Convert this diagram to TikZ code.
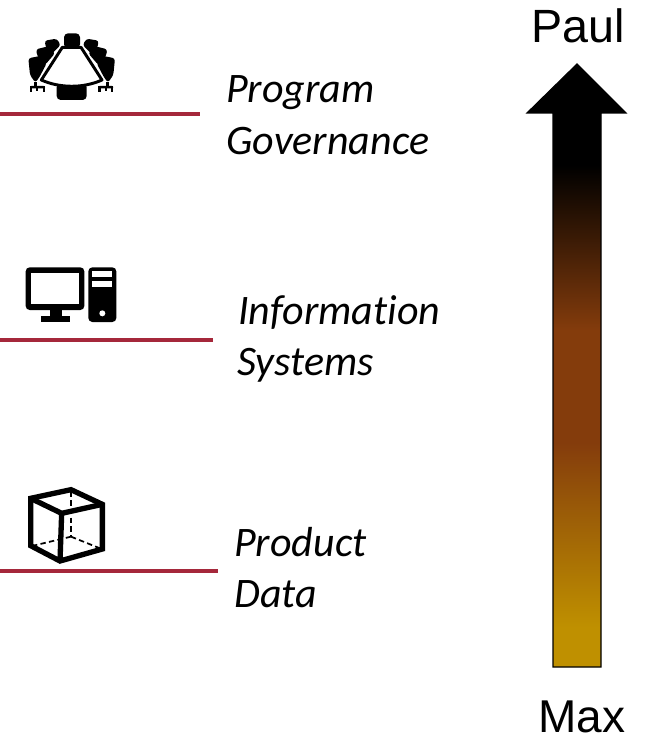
\documentclass[tikz,border=0pt]{standalone}
\usepackage{fontspec}
\setmainfont[Ligatures=NoCommon]{Carlito}
\newfontfamily\labelfont{Liberation Sans}
\definecolor{linered}{HTML}{A5283B}
\definecolor{arrowgold}{HTML}{BF9000}
\definecolor{arrowbrown}{HTML}{843C0C}
\pgfdeclareverticalshading{paulmax}{100bp}{
    color(0bp)=(arrowgold);
    color(28.3bp)=(arrowgold);
    color(43.6bp)=(arrowbrown);
    color(52.9bp)=(arrowbrown);
    color(66.6bp)=(black);
    color(100bp)=(black)}

\begin{document}
\begin{tikzpicture}[x=0.75pt,y=-0.75pt]
    \useasboundingbox (0,0) rectangle (658,738);
    % levels
    \begin{scope}[every node/.style={anchor=base west,font=\itshape\fontsize{31.5}{31.5}\selectfont,inner sep=0pt}]
        \node (program) at (226,103) {Program};
        \node (governance) at (226,155) {Governance};
        \node (information) at (238,324) {Information};
        \node (systems) at (237,375) {Systems};
        \node (product) at (234,556) {Product};
        \node (data) at (234,607) {Data};
    \end{scope}
    \coordinate (A0) at (0,114);
    \coordinate (A1) at (200,114);
    \coordinate (B0) at (0,340);
    \coordinate (B1) at (213,340);
    \coordinate (C0) at (0,571);
    \coordinate (C1) at (218,571);
    \begin{scope}[every path/.style={draw=linered,line width=2.4pt}]
        \draw (A0) -- (A1);
        \draw (B0) -- (B1);
        \draw (C0) -- (C1);
    \end{scope}
    % arrow
    \shadedraw[shading=paulmax,draw=black,line width=0.9pt] (577,64) -- (626,113) -- (601,113) -- (601,667) -- (553,667) -- (553,113) -- (527,113) -- cycle;
    \node[anchor=base,font=\labelfont\fontsize{35}{35}\selectfont,inner sep=0pt] (paul) at (578,43) {Paul};
    \node[anchor=base,font=\labelfont\fontsize{34.5}{34.5}\selectfont,inner sep=0pt] (max) at (582,732) {Max};
    % meeting table
    \begin{scope}[shift={(0,20)},x=0.25pt,y=-0.25pt]
        \foreach \s/\c in {1/0,-1/430}{
            \begin{scope}[shift={(\c,0)},xscale=\s]
                \fill[rounded corners=2pt] (85,115) -- (130,106) -- (140,130) -- (118,172) -- (106,188) -- (90,165) -- cycle;
                \fill[rounded corners=2pt] (108,88) -- (148,78) -- (165,100) -- (135,135) -- (112,108) -- cycle;
                \fill[rounded corners=2pt] (134,62) -- (170,56) -- (182,75) -- (155,102) -- (138,84) -- cycle;
                \fill (103,185) rectangle (112,200);
                \fill[rounded corners=1pt] (90,198) rectangle (135,205);
                \fill (90,198) rectangle (97,216);
                \fill (108,198) rectangle (115,214);
                \fill (128,198) rectangle (135,216);
            \end{scope}
        }
        \fill[rounded corners=3pt] (192,85) -- (192,40) -- (240,40) -- (240,85) -- cycle;
        \fill[rounded corners=3pt] (170,190) rectangle (260,240);
        \filldraw[fill=white,draw=black,line width=2.2pt,line join=round] (187,82) -- (243,82) -- (306,180) .. controls (250,205) and (180,205) .. (124,180) -- cycle;
    \end{scope}
    % computer
    \begin{scope}[shift={(0,255)},x=0.25pt,y=-0.25pt]
        \fill[rounded corners=3pt] (77,37) rectangle (253,165);
        \fill[white] (93,53) rectangle (237,148);
        \fill (150,165) rectangle (185,185);
        \fill (122,183) rectangle (210,201);
        \fill[rounded corners=3pt] (265,37) rectangle (349,201);
        \fill[white] (277,47) rectangle (337,66);
        \fill[white] (277,77) rectangle (337,96);
        \fill[white] (307,175) circle (9);
    \end{scope}
    % cube
    \begin{scope}[shift={(0,475)},x=0.25pt,y=-0.25pt]
        \draw[line width=2pt,dash pattern=on 4pt off 2.5pt] (213,50) -- (213,185);
        \draw[line width=1.3pt,dash pattern=on 4pt off 2.5pt] (213,185) -- (100,212);
        \draw[line width=1.3pt,dash pattern=on 4pt off 2.5pt] (213,185) -- (300,220);
        \draw[line width=4pt,line join=miter] (92,70) -- (213,44) -- (307,88) -- (307,222) -- (180,258) -- (92,212) -- cycle;
        \draw[line width=4pt,line join=miter] (92,70) -- (185,115) -- (307,88);
        \draw[line width=4pt] (180,258) -- (185,115);
    \end{scope}
\end{tikzpicture}
\end{document}
